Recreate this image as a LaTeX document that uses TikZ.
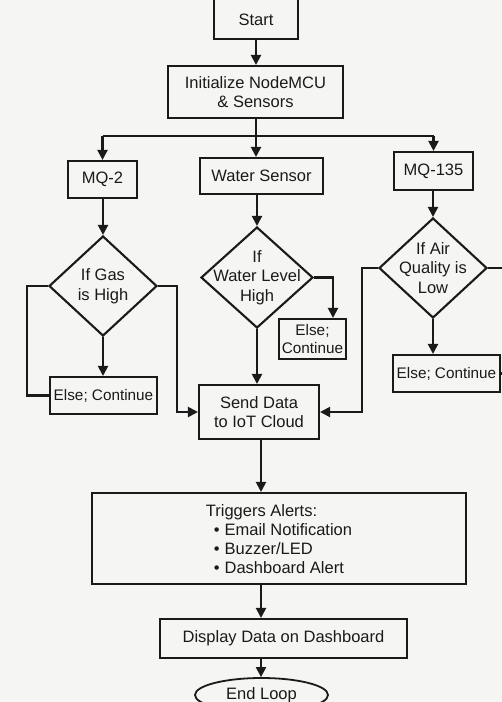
\documentclass[tikz,border=0pt]{standalone}
\usepackage{fontspec}
\setmainfont{Liberation Sans}
\usetikzlibrary{arrows.meta,shapes.geometric,calc}
\definecolor{bgc}{HTML}{F5F5F3}
\definecolor{ink}{HTML}{1A1A1A}
\newcommand\mainfs{\fontsize{16.5}{19.5}\selectfont}
\newcommand\elsefs{\fontsize{15.3}{18}\selectfont}
\newcommand\trigfs{\fontsize{16.5}{19}\selectfont}
\begin{document}
\begin{tikzpicture}[x=1pt,y=-1pt,
  box/.style={draw=ink, line width=2.1pt, rectangle, inner sep=1pt, align=center, font=\mainfs, text=ink},
  dia/.style={draw=ink, line width=2.1pt, diamond, inner sep=0pt},
  lbl/.style={font=\mainfs, text=ink, align=center},
  arr/.style={draw=ink, line width=2.1pt, -{Triangle[length=10pt,width=10pt]}},
  ln/.style={draw=ink, line width=2.1pt}]
\useasboundingbox (0,0) rectangle (502,702);
\clip (0,0) rectangle (502,702);
\fill[bgc] (0,0) rectangle (502,702);

\node[box, minimum width=84pt, minimum height=60pt,
      label={[lbl, yshift=-11pt]center:Start}] (start) at (256,9) {};
\node[box, minimum width=175pt, minimum height=52pt] (init) at (255.5,92) {Initialize NodeMCU\\\& Sensors};
\coordinate (jn) at (256,136);
\node[box, minimum width=69pt, minimum height=37pt] (mq2) at (102.5,179.5) {MQ-2};
\node[box, minimum width=123pt, minimum height=36pt] (ws) at (261.5,176) {Water Sensor};
\node[box, minimum width=79pt, minimum height=38pt] (mq135) at (433.5,171) {MQ-135};

\node[dia, minimum width=108pt, minimum height=100pt,
      label={[lbl]center:If Gas\\is High}] (d1) at (103,286) {};
\node[dia, minimum width=112pt, minimum height=101pt,
      label={[lbl]center:If\\Water Level\\High}] (d2) at (257,277.5) {};
\node[dia, minimum width=108pt, minimum height=100pt,
      label={[lbl]center:If Air\\Quality is\\Low}] (d3) at (433,268) {};

\node[box, minimum width=107pt, minimum height=37pt, font=\elsefs] (e1) at (103.5,395.5) {Else; Continue};
\node[box, minimum width=67pt, minimum height=40pt, font=\elsefs] (e2) at (312.5,339) {Else;\\Continue};
\node[box, minimum width=107pt, minimum height=37pt, font=\elsefs] (e3) at (446.5,373.5) {Else; Continue};

\node[box, minimum width=120pt, minimum height=54pt] (send) at (259,412) {Send Data\\to IoT Cloud};

\node[box, minimum width=374pt, minimum height=91pt,
      label={[font=\trigfs, text=ink, align=left, yshift=-1pt]center:Triggers Alerts:\\\hspace*{8pt}\textbullet\hspace{5pt}Email Notification\\\hspace*{8pt}\textbullet\hspace{5pt}Buzzer/LED\\\hspace*{8pt}\textbullet\hspace{5pt}Dashboard Alert}] (trig) at (279,538.5) {};

\node[box, minimum width=247pt, minimum height=39pt] (disp) at (283.5,638.5) {Display Data on Dashboard};
\node[ellipse, draw=ink, line width=1.8pt, minimum width=133pt, minimum height=34pt, font=\mainfs, text=ink, inner sep=0pt] (endl) at (261.5,695) {End Loop};

% connectors
\draw[arr] (start.south) -- (start.south |- init.north);
\draw[ln] (init.south -| jn) -- (jn);
\draw[ln] (jn -| mq2.north) -- (jn -| mq135.north);
\draw[arr] (jn -| mq2.north) -- (mq2.north);
\draw[arr] (jn) -- (jn |- ws.north);
\draw[arr] (jn -| mq135.north) -- (mq135.north);

\draw[arr] (mq2.south -| d1.north) -- (d1.north);
\draw[arr] (ws.south -| d2.north) -- (d2.north);
\draw[arr] (mq135.south -| d3.north) -- (d3.north);

\draw[arr] (d1.south) -- (d1.south |- e1.north);
\draw[ln] (e1.west) -- ++(-22,0) |- (d1.west);
\draw[arr] (d1.east) -- ++(19,0) |- (send.west);

\coordinate (e2in) at (333,0);
\draw[arr] (d2.east) -| (e2in |- e2.north);
\draw[arr] (d2.south) -- (d2.south |- send.north);

\draw[arr] (d3.west) -- ++(-16,0) |- (send.east);
\draw[arr] (d3.south) -- (d3.south |- e3.north);
\draw[ln] (d3.east) -- ++(20,0);
\draw[ln] (e3.east) -- ++(10,0);

\coordinate (cx) at (261,0);
\draw[arr] (send.south -| cx) -- (cx |- trig.north);
\draw[arr] (trig.south -| cx) -- (cx |- disp.north);
\draw[arr] (disp.south -| cx) -- (cx |- endl.north);
\end{tikzpicture}
\end{document}
